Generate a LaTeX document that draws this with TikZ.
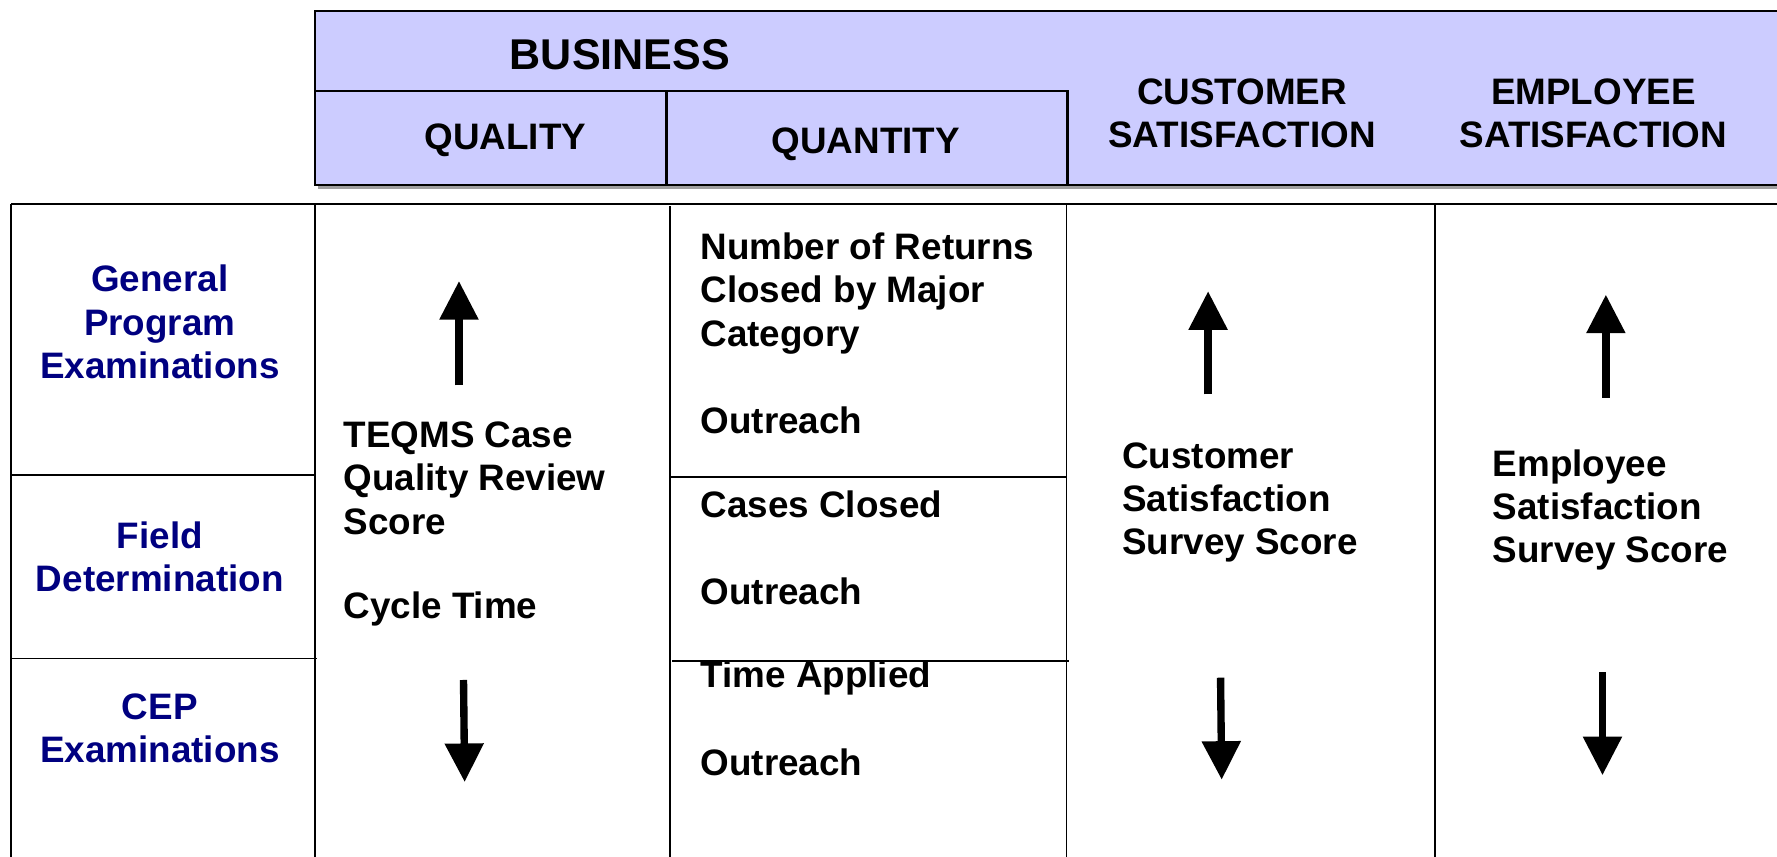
\documentclass[tikz,border=0pt]{standalone}
\usepackage{fontspec}
\setmainfont{Liberation Sans}
\usetikzlibrary{arrows.meta}
\definecolor{hdrfill}{HTML}{CCCCFF}
\definecolor{navytext}{HTML}{000080}
\begin{document}
\begin{tikzpicture}[x=1pt,y=-1pt,
  hdrtext/.style={font=\bfseries\fontsize{32.5}{38}\selectfont, align=center, inner sep=0},
  bigtext/.style={font=\bfseries\fontsize{38}{44}\selectfont, align=center, inner sep=0},
  rowlab/.style={font=\bfseries\fontsize{32.5}{38}\selectfont, text=navytext, align=center, inner sep=0},
  celltext/.style={font=\bfseries\fontsize{32.5}{38}\selectfont, align=left, anchor=west, inner sep=0},
  gridline/.style={line width=1.6pt},
  bigarrow/.style={line width=6.5pt, -{Triangle[width=33pt,length=34pt]}},
]
\useasboundingbox (0,0) rectangle (1568,756);
% header
\fill[gray!75] (281,14) rectangle (1580,167);
\draw[line width=2pt, fill=hdrfill] (278,10) rectangle (1580,163);
\draw[line width=2pt] (278,80) -- (942,80) -- (942,163);
\draw[line width=2pt] (588,80) -- (588,163);
\node[bigtext] (bus) at (547,48) {BUSINESS};
\node[hdrtext] (qual) at (446,124) {QUALITY};
\node[hdrtext] (quan) at (764,127) {QUANTITY};
\node[hdrtext] (cust) at (1096,100) {CUSTOMER\\SATISFACTION};
\node[hdrtext] (empl) at (1406,100) {EMPLOYEE\\SATISFACTION};
% lower table
\draw[line width=2pt] (10,180) -- (1580,180);
\draw[gridline] (10,180) -- (10,760);
\draw[gridline] (278,180) -- (278,760);
\draw[gridline] (591,182) -- (591,760);
\draw[gridline] (941,180) -- (941,760);
\draw[gridline] (1266,180) -- (1266,760);
\draw[gridline] (10,419) -- (278,419);
\draw[gridline] (10,581) -- (280,581);
\draw[gridline] (591,421) -- (941,421);
\draw[gridline] (593,583) -- (943,583);
% row labels
\node[rowlab] (gpe) at (141,284) {General\\Program\\Examinations};
\node[rowlab] (fd) at (141,491) {Field\\Determination};
\node[rowlab] (cep) at (141,643) {CEP\\Examinations};
% quality column
\node[celltext] (teq) at (303,422) {TEQMS Case\\Quality Review\\Score};
\node[celltext] (cyc) at (303,537) {Cycle Time};
% quantity column
\node[celltext] (num) at (618,259) {Number of Returns\\Closed by Major\\Category};
\node[celltext] (out1) at (618,371) {Outreach};
\node[celltext] (cc) at (618,445) {Cases Closed};
\node[celltext] (out2) at (618,522) {Outreach};
\node[celltext] (ta) at (618,598) {Time Applied};
\node[celltext] (out3) at (618,673) {Outreach};
% satisfaction columns
\node[celltext] (css) at (990,443) {Customer\\Satisfaction\\Survey Score};
\node[celltext] (ess) at (1317,450) {Employee\\Satisfaction\\Survey Score};
% arrows
\coordinate (qu0) at (405,340); \coordinate (qu1) at (405,248);
\coordinate (qd0) at (409,600); \coordinate (qd1) at (410,690);
\coordinate (cu0) at (1066,348); \coordinate (cu1) at (1066,257);
\coordinate (cd0) at (1077,598); \coordinate (cd1) at (1078,688);
\coordinate (eu0) at (1417,351); \coordinate (eu1) at (1417,260);
\coordinate (ed0) at (1414,593); \coordinate (ed1) at (1414,684);
\draw[bigarrow] (qu0) -- (qu1);
\draw[bigarrow] (qd0) -- (qd1);
\draw[bigarrow] (cu0) -- (cu1);
\draw[bigarrow] (cd0) -- (cd1);
\draw[bigarrow] (eu0) -- (eu1);
\draw[bigarrow] (ed0) -- (ed1);
\end{tikzpicture}
\end{document}
